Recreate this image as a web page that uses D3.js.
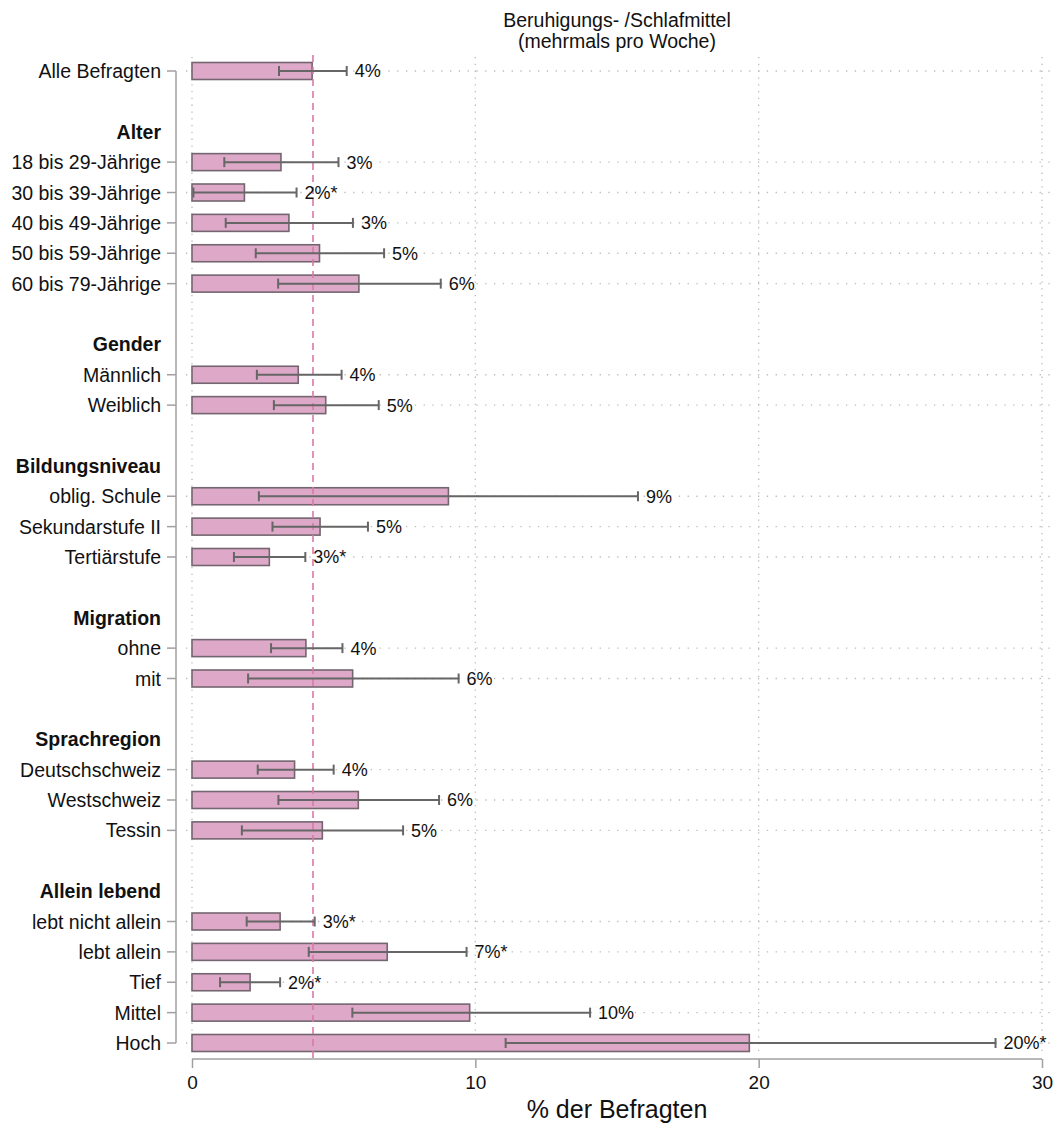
<!DOCTYPE html>
<html><head><meta charset="utf-8">
<script src="https://cdn.jsdelivr.net/npm/d3@7"></script>
<style>body{margin:0;background:#fff}svg{display:block;font-family:"Liberation Sans",Arial,sans-serif}</style>
</head><body><svg id="c" width="1057" height="1129"></svg>
<script>
// rows: type h = group header, d = data, b = blank
const rowLabels = ["Alle Befragten","", "Alter","18 bis 29-Jährige","30 bis 39-Jährige","40 bis 49-Jährige","50 bis 59-Jährige","60 bis 79-Jährige","",
  "Gender","Männlich","Weiblich","",
  "Bildungsniveau","oblig. Schule","Sekundarstufe II","Tertiärstufe","",
  "Migration","ohne","mit","",
  "Sprachregion","Deutschschweiz","Westschweiz","Tessin","",
  "Allein lebend","lebt nicht allein","lebt allein","Tief","Mittel","Hoch"];
const rowTypes = ["d","b","h","d","d","d","d","d","b","h","d","d","b","h","d","d","d","b","h","d","d","b","h","d","d","d","b","h","d","d","d","d","d"];
const dataLabels = ["Alle Befragten","18 bis 29-Jährige","30 bis 39-Jährige","40 bis 49-Jährige","50 bis 59-Jährige","60 bis 79-Jährige","Männlich","Weiblich","oblig. Schule","Sekundarstufe II","Tertiärstufe","ohne","mit","Deutschschweiz","Westschweiz","Tessin","lebt nicht allein","lebt allein","Tief","Mittel","Hoch"];
const values = [4.24,3.14,1.85,3.42,4.5,5.89,3.75,4.72,9.05,4.52,2.73,4.02,5.67,3.62,5.87,4.6,3.11,6.89,2.05,9.8,19.67];
const ciLow  = [3.07,1.14,0.05,1.19,2.25,3.04,2.29,2.89,2.36,2.84,1.48,2.79,1.98,2.32,3.05,1.76,1.93,4.12,0.99,5.66,11.07];
const ciHigh = [5.46,5.17,3.69,5.68,6.78,8.78,5.28,6.59,15.74,6.21,4.0,5.31,9.41,5.0,8.72,7.45,4.33,9.69,3.11,14.05,28.36];
const valueLabels = ["4%","3%","2%*","3%","5%","6%","4%","5%","9%","5%","3%*","4%","6%","4%","6%","5%","3%*","7%*","2%*","10%","20%*"];
const meanValue = 4.27;
const xTicks = [0,10,20,30];
const titleLines = ["Beruhigungs- /Schlafmittel","(mehrmals pro Woche)"];
const xTitle = "% der Befragten";

const svg = d3.select("#c");
const x = d3.scaleLinear().domain([0,30]).range([192,1042]);
const rowIdx = d3.range(rowLabels.length);
const y = d3.scalePoint().domain(rowIdx).range([71,1043]);
const barH = 17;
const grey = "#a0a0a0";

// title
svg.append("text").attr("x",617).attr("y",0).attr("text-anchor","middle")
  .attr("font-size",19.5).attr("fill","#111")
  .selectAll("tspan").data(titleLines).join("tspan")
  .attr("x",617).attr("y",(d,i)=>27+i*21).text(d=>d);

// vertical dotted grid
svg.append("g").selectAll("line").data(xTicks).join("line")
  .attr("x1",d=>x(d)).attr("x2",d=>x(d)).attr("y1",57).attr("y2",1055)
  .attr("stroke","#bbb").attr("stroke-width",1.3).attr("stroke-dasharray","1.3,5.5");

// horizontal dotted grid at data rows
const dataRows = rowIdx.filter(i=>rowTypes[i]==="d");
svg.append("g").selectAll("line").data(dataRows).join("line")
  .attr("x1",186).attr("x2",1050).attr("y1",d=>y(d)).attr("y2",d=>y(d))
  .attr("stroke","#bbb").attr("stroke-width",1.3).attr("stroke-dasharray","1.3,7.5");

// y axis line + ticks
svg.append("line").attr("x1",176).attr("x2",176).attr("y1",y(0)).attr("y2",y(rowIdx.length-1))
  .attr("stroke",grey).attr("stroke-width",1.5);
svg.append("g").selectAll("line").data(dataRows).join("line")
  .attr("x1",167).attr("x2",176).attr("y1",d=>y(d)).attr("y2",d=>y(d))
  .attr("stroke",grey).attr("stroke-width",1.5);

// y labels
svg.append("g").selectAll("text").data(rowIdx.filter(i=>rowTypes[i]!=="b")).join("text")
  .attr("x",161).attr("y",d=>y(d)).attr("dy","0.36em").attr("text-anchor","end")
  .attr("font-size",19.5).attr("fill","#111")
  .attr("font-weight",d=>rowTypes[d]==="h"?"bold":"normal")
  .text(d=>rowLabels[d]);

// data rows mapping
const rowOf = dataLabels.map(l=>rowLabels.indexOf(l));
const data = dataLabels.map((l,i)=>({l,v:values[i],lo:ciLow[i],hi:ciHigh[i],lab:valueLabels[i],r:rowOf[i]}));

// bars
svg.append("g").selectAll("rect").data(data).join("rect")
  .attr("x",x(0)).attr("y",d=>y(d.r)-barH/2).attr("width",d=>x(d.v)-x(0)).attr("height",barH)
  .attr("fill","#dea9c8").attr("stroke","#736670").attr("stroke-width",1.6);

// mean line
svg.append("line").attr("x1",x(meanValue)).attr("x2",x(meanValue)).attr("y1",55).attr("y2",1060)
  .attr("stroke","#d97aa8").attr("stroke-width",1.6).attr("stroke-dasharray","7,5");

// error bars
const eb = svg.append("g").attr("stroke","#666").attr("stroke-width",2);
eb.selectAll(".h").data(data).join("line")
  .attr("x1",d=>x(d.lo)).attr("x2",d=>x(d.hi)).attr("y1",d=>y(d.r)).attr("y2",d=>y(d.r));
eb.selectAll(".l").data(data).join("line")
  .attr("x1",d=>x(d.lo)).attr("x2",d=>x(d.lo)).attr("y1",d=>y(d.r)-5).attr("y2",d=>y(d.r)+5);
eb.selectAll(".u").data(data).join("line")
  .attr("x1",d=>x(d.hi)).attr("x2",d=>x(d.hi)).attr("y1",d=>y(d.r)-5).attr("y2",d=>y(d.r)+5);

// value labels
svg.append("g").selectAll("text").data(data).join("text")
  .attr("x",d=>x(d.hi)+8).attr("y",d=>y(d.r)).attr("dy","0.36em")
  .attr("font-size",18).attr("fill","#111").text(d=>d.lab);

// x axis
const xa = svg.append("g").attr("transform","translate(0,1059)")
  .call(d3.axisBottom(x).tickValues(xTicks).tickSize(9).tickPadding(8));
xa.select(".domain").attr("stroke",grey).attr("stroke-width",1.5).attr("d",`M${x(0)},0H${x(30)}`);
xa.selectAll(".tick line").attr("stroke",grey).attr("stroke-width",1.5);
xa.selectAll(".tick text").attr("font-size",19).attr("fill","#111").attr("font-family","'Liberation Sans',Arial,sans-serif");

svg.append("text").attr("x",617).attr("y",1118).attr("text-anchor","middle")
  .attr("font-size",25).attr("fill","#111").text(xTitle);
</script></body></html>
